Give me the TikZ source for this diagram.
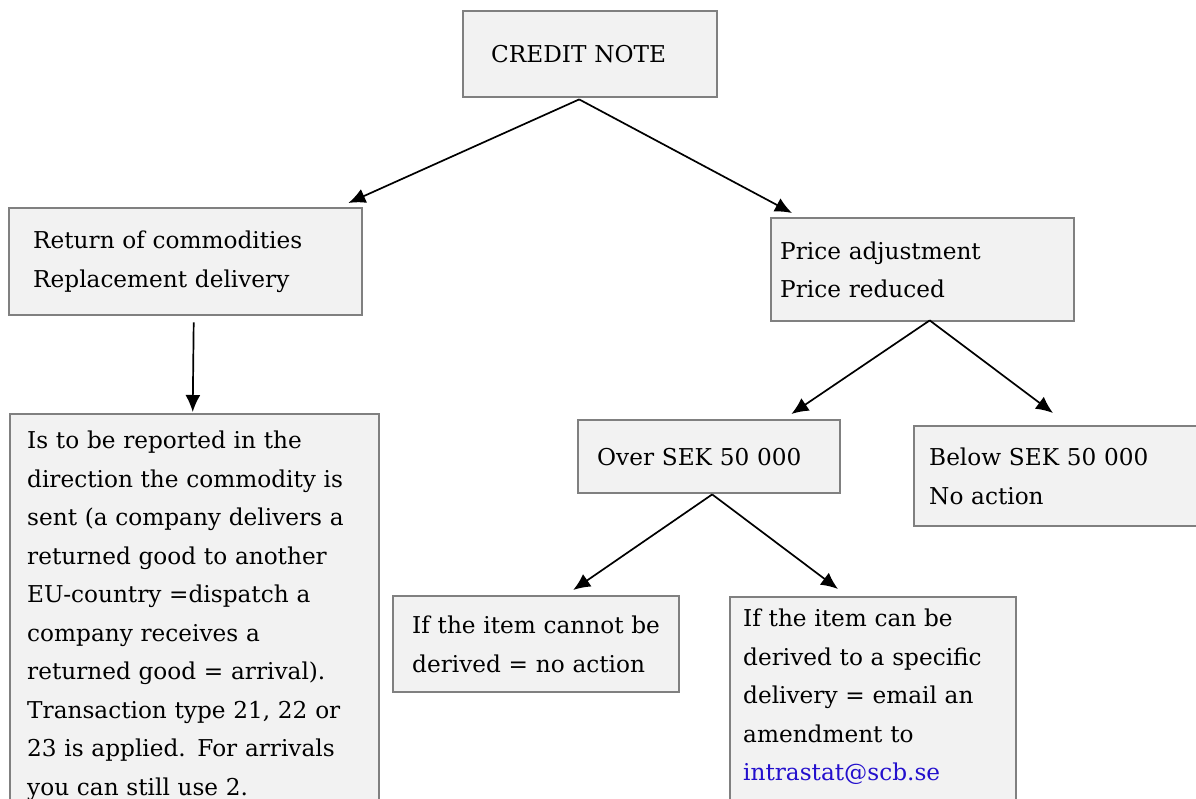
\documentclass[tikz,border=0pt]{standalone}
\usepackage{fontspec}
\setmainfont{DejaVu Serif}
\usepackage{tikz}
\usetikzlibrary{arrows.meta,calc}

\definecolor{boxfill}{HTML}{F2F2F2}
\definecolor{boxline}{HTML}{808080}
\definecolor{maillink}{RGB}{35,15,205}

\tikzset{
    notebox/.style={draw=boxline, fill=boxfill, line width=2.4pt, rectangle,
        anchor=north west, align=left, inner ysep=0pt,
        font=\fontsize{23.2}{38.5}\selectfont},
    flow/.style={-{Latex[length=17pt,width=15pt]}, line width=1.7pt}
}

\begin{document}
\begin{tikzpicture}[x=1pt, y=-1pt]
        \useasboundingbox (0,0) rectangle (1196,798);
        \clip (0,0) rectangle (1196,798);
        % boxes
        \node[notebox, minimum width=254pt, minimum height=86pt, inner xsep=28pt, text width=198pt] (credit) at (462,10) {CREDIT NOTE};
        \node[notebox, minimum width=353pt, minimum height=107pt, inner xsep=24pt, text width=305pt] (ret) at (8,207)
            {Return of commodities\\Replacement delivery};
        \node[notebox, minimum width=303pt, minimum height=103pt, inner xsep=9pt, text width=285pt] (price) at (770,217)
            {Price adjustment\\Price reduced};
        \node[notebox, minimum width=369pt, minimum height=403pt, inner xsep=17pt, text width=335pt] (report) at (9,413)
            {Is to be reported in the\\direction the commodity is\\sent (a company delivers a\\returned good to another\\EU-country =dispatch a\\company receives a\\returned good = arrival).\\Transaction type 21, 22 or\\23 is applied. For arrivals\\you can still use 2.};
        \node[notebox, minimum width=262pt, minimum height=73pt, inner xsep=19pt, text width=224pt] (over) at (577,419) {Over SEK 50 000};
        \node[notebox, minimum width=290pt, minimum height=100pt, inner xsep=15pt, text width=260pt] (below) at (913,425)
            {Below SEK 50 000\\No action};
        \node[notebox, minimum width=286pt, minimum height=96pt, inner xsep=19pt, text width=248pt] (cannot) at (392,595)
            {If the item cannot be\\derived = no action};
        \node[notebox, minimum width=286pt, minimum height=234pt, inner xsep=13pt, text width=260pt] (can) at (729,596)
            {If the item can be\\derived to a specific\\delivery = email an\\amendment to\\\textcolor{maillink}{intrastat@scb.se}\\\mbox{}};
        % connectors
        \draw[flow] ($(credit.south)+(-11,1)$) -- ($(ret.north east)+(-15,-4)$);
        \draw[flow] ($(credit.south)+(-11,1)$) -- ($(price.north west)+(22,-4)$);
        \draw[flow] ($(ret.south)+(8,6)$) -- ($(report.north)+(-2,-1)$);
        \draw[flow] ($(price.south)+(7,-2)$) -- ($(over.north east)+(-50,-5)$);
        \draw[flow] ($(price.south)+(7,-2)$) -- ($(below.north west)+(140,-12)$);
        \draw[flow] ($(over.south)+(3,0)$) -- ($(cannot.north)+(37,-5)$);
        \draw[flow] ($(over.south)+(3,0)$) -- ($(can.north west)+(109,-7)$);
\end{tikzpicture}
\end{document}
